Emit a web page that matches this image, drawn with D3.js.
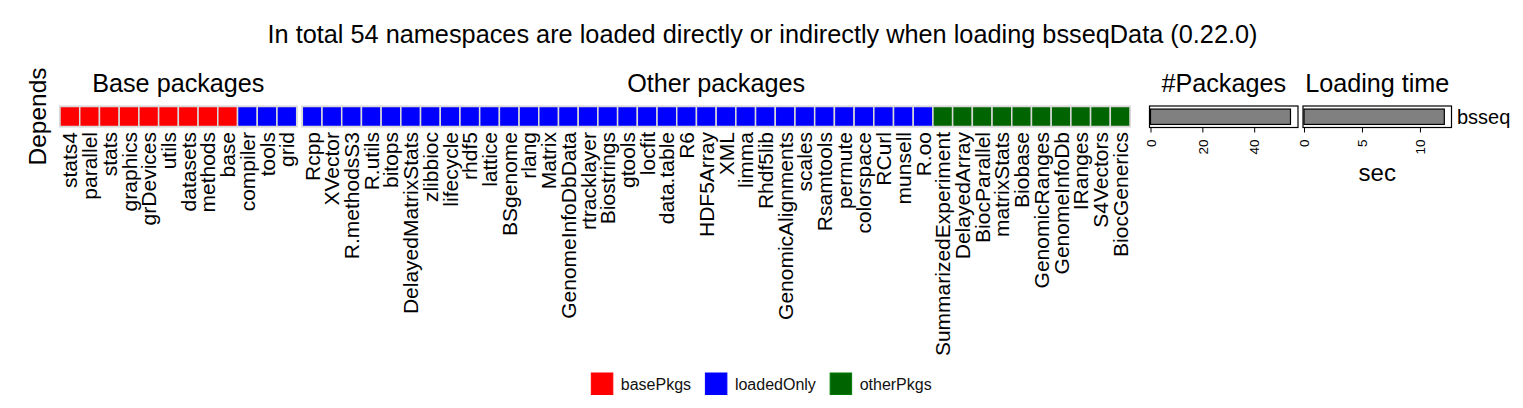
<!DOCTYPE html>
<html>
<head>
<meta charset="utf-8">
<script src="https://cdn.jsdelivr.net/npm/d3@7"></script>
<style>
  html, body { margin: 0; padding: 0; background: #fff; }
  svg { display: block; font-family: "Liberation Sans", Arial, Helvetica, sans-serif; }
</style>
</head>
<body>
<svg id="chart" width="1523" height="408"></svg>
<script>
// ---------------- data ----------------
const chartTitle = "In total 54 namespaces are loaded directly or indirectly when loading bsseqData (0.22.0)";
const rowLabel = ["Depends"];
const blockTitles = ["Base packages", "Other packages"];
const baseBlock = ["stats4", "parallel", "stats", "graphics", "grDevices", "utils", "datasets", "methods", "base",
                   "compiler", "tools", "grid"];
const otherBlock = ["Rcpp", "XVector", "R.methodsS3", "R.utils", "bitops", "DelayedMatrixStats", "zlibbioc",
                    "lifecycle", "rhdf5", "lattice", "BSgenome", "rlang", "Matrix", "GenomeInfoDbData",
                    "rtracklayer", "Biostrings", "gtools", "locfit", "data.table", "R6", "HDF5Array", "XML",
                    "limma", "Rhdf5lib", "GenomicAlignments", "scales", "Rsamtools", "permute", "colorspace",
                    "RCurl", "munsell", "R.oo",
                    "SummarizedExperiment", "DelayedArray", "BiocParallel", "matrixStats", "Biobase",
                    "GenomicRanges", "GenomeInfoDb", "IRanges", "S4Vectors", "BiocGenerics"];
const basePkgs = ["stats4", "parallel", "stats", "graphics", "grDevices", "utils", "datasets", "methods", "base"];
const otherPkgs = ["SummarizedExperiment", "DelayedArray", "BiocParallel", "matrixStats", "Biobase",
                   "GenomicRanges", "GenomeInfoDb", "IRanges", "S4Vectors", "BiocGenerics"];
const legendKeys = ["basePkgs", "loadedOnly", "otherPkgs"];
const legendColors = ["#FF0000", "#0000FF", "#006400"];
const barRows = ["bsseq"];
const pkgCount = [54];
const loadTime = [12.1];
const pkgTicks = [0, 20, 40];
const timeTicks = [0, 5, 10];
const panelTitles = ["#Packages", "Loading time"];
const timeUnit = "sec";

// ---------------- drawing ----------------
const svg = d3.select("#chart");
const W = 1523;
const color = d3.scaleOrdinal().domain(legendKeys).range(legendColors);
const typeOf = p => basePkgs.includes(p) ? "basePkgs" : (otherPkgs.includes(p) ? "otherPkgs" : "loadedOnly");

// title
svg.append("text").attr("x", W / 2 + 1).attr("y", 43).attr("text-anchor", "middle")
  .attr("font-size", 25.3).attr("fill", "#000").text(chartTitle);

// row label
const y = d3.scaleBand().domain(rowLabel).range([106.5, 126.5]);
svg.append("text")
  .attr("transform", `translate(37,${y(rowLabel[0]) + y.bandwidth() / 2}) rotate(-90)`)
  .attr("text-anchor", "middle").attr("dominant-baseline", "central")
  .attr("font-size", 24.5).text(rowLabel[0]);

function drawBlock(names, x0, x1, title) {
  const x = d3.scaleBand().domain(names).range([x0, x1]);
  const g = svg.append("g");
  g.append("rect").attr("x", x0 - 0.5).attr("y", y.range()[0] - 0.5)
    .attr("width", x1 - x0 + 1).attr("height", y.bandwidth() + 1)
    .attr("fill", "none").attr("stroke", "#d9d9d9").attr("stroke-width", 1);
  g.selectAll("rect.tile").data(names).join("rect").attr("class", "tile")
    .attr("x", d => x(d)).attr("y", y(rowLabel[0]))
    .attr("width", x.bandwidth()).attr("height", y.bandwidth())
    .attr("fill", d => color(typeOf(d)))
    .attr("stroke", "#d9d9d9").attr("stroke-width", 1.5);
  g.selectAll("text.lab").data(names).join("text").attr("class", "lab")
    .attr("transform", d => `translate(${x(d) + x.bandwidth() / 2},132) rotate(-90)`)
    .attr("text-anchor", "end").attr("dominant-baseline", "central")
    .attr("font-size", 21).text(d => d);
  g.append("text").attr("x", (x0 + x1) / 2).attr("y", 91.5).attr("text-anchor", "middle")
    .attr("font-size", 25.2).text(title);
}
drawBlock(baseBlock, 60, 296.7, blockTitles[0]);
drawBlock(otherBlock, 302.3, 1130, blockTitles[1]);

// bar panels
function drawPanel(values, dmax, bx0, bx1, ticks, title, xlabel) {
  const x = d3.scaleLinear().domain([0, dmax]).range([bx0 + 1, bx1]);
  const yb = d3.scaleBand().domain(barRows).range([106, 127.5]).paddingInner(0).paddingOuter(0.2);
  const g = svg.append("g");
  g.append("rect").attr("x", bx0).attr("y", 106).attr("width", bx1 - bx0).attr("height", 21.5)
    .attr("fill", "none").attr("stroke", "#000").attr("stroke-width", 1.2);
  g.selectAll("rect.bar").data(values).join("rect").attr("class", "bar")
    .attr("x", x(0)).attr("y", (d, i) => yb(barRows[i]))
    .attr("width", d => x(d) - x(0)).attr("height", yb.bandwidth())
    .attr("fill", "#808080").attr("stroke", "#000").attr("stroke-width", 1.2);
  const axis = d3.axisBottom(x).tickValues(ticks).tickSize(5).tickPadding(3).tickFormat(d3.format("d"));
  const ag = g.append("g").attr("transform", "translate(0,127.5)").call(axis);
  ag.select(".domain").remove();
  ag.selectAll(".tick line").attr("stroke", "#000");
  ag.selectAll(".tick text").attr("font-size", 13.5).attr("font-family", "Liberation Sans, Arial, sans-serif")
    .attr("fill", "#000")
    .attr("transform", "rotate(-90)").attr("text-anchor", "end").attr("dy", "0.35em")
    .attr("x", -12).attr("y", 0);
  g.append("text").attr("x", (bx0 + bx1) / 2).attr("y", 91.5).attr("text-anchor", "middle")
    .attr("font-size", 25.2).text(title);
  if (xlabel) {
    g.append("text").attr("x", (bx0 + bx1) / 2).attr("y", 181).attr("text-anchor", "middle")
      .attr("font-size", 24).text(xlabel);
  }
  return x;
}
drawPanel(pkgCount, 56.9, 1149.5, 1298, pkgTicks, panelTitles[0], null);
drawPanel(loadTime, 12.72, 1303, 1451.5, timeTicks, panelTitles[1], timeUnit);
svg.append("text").attr("x", 1457).attr("y", 116.8).attr("dominant-baseline", "central")
  .attr("font-size", 20).text(barRows[0]);

// legend
const lg = svg.append("g");
let cx = 0;
legendKeys.forEach((k, i) => {
  const item = lg.append("g").attr("transform", `translate(${cx},0)`);
  item.append("rect").attr("x", 0).attr("y", 373).attr("width", 21.5).attr("height", 21.5)
    .attr("fill", color(k)).attr("stroke", d3.color(color(k)).brighter(0.6)).attr("stroke-width", 1);
  const t = item.append("text").attr("x", 29.5).attr("y", 384).attr("dominant-baseline", "central")
    .attr("font-size", 16).attr("fill", "#111").text(k);
  cx += 29.5 + t.node().getComputedTextLength() + 14.3;
});
const lw = cx - 14.3;
lg.attr("transform", `translate(${W / 2 - lw / 2},0)`);
</script>
</body>
</html>
